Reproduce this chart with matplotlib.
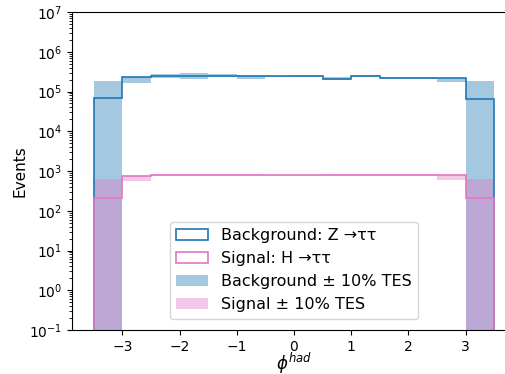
import numpy as np
import matplotlib
matplotlib.use('Agg')
import matplotlib.pyplot as plt
from matplotlib.ticker import LogLocator

# bin edges in phi^had
edges = [-3.5, -3.0, -2.5, -2.0, -1.5, -1.0, -0.5, 0.0, 0.5, 1.0, 1.5, 2.0, 2.5, 3.0, 3.5]

# nominal histograms
bkg_nom = [6.9e4, 2.28e5, 2.5e5, 2.5e5, 2.5e5, 2.45e5, 2.41e5,
           2.41e5, 2.1e5, 2.41e5, 2.23e5, 2.19e5, 2.23e5, 6.6e4]
sig_nom = [213, 762, 805, 800, 795, 790, 788,
           788, 790, 795, 790, 790, 785, 213]

# +-10% TES envelope (low, high)
bkg_lo = [1e-3, 1.66e5, 2.14e5, 2.03e5, 2.32e5, 2.1e5, 2.28e5,
          2.33e5, 1.98e5, 2.33e5, 2.1e5, 2.07e5, 1.7e5, 1e-3]
bkg_hi = [1.87e5, 2.28e5, 2.7e5, 2.87e5, 2.7e5, 2.6e5, 2.5e5,
          2.6e5, 2.36e5, 2.57e5, 2.33e5, 2.33e5, 2.23e5, 1.87e5]
sig_lo = [1e-3, 575, 762, 750, 770, 760, 770,
          770, 760, 770, 760, 765, 600, 1e-3]
sig_hi = [630, 762, 820, 850, 830, 830, 810,
          810, 840, 830, 830, 820, 790, 630]

centers = 0.5 * (np.array(edges[:-1]) + np.array(edges[1:]))

fig = plt.figure(figsize=(5.06, 3.74), dpi=100)
ax = fig.add_axes([72 / 506, 44 / 374, 444 / 506, 318 / 374])

ax.hist(centers, bins=edges, weights=bkg_nom, histtype='step',
        color='tab:blue', lw=1.2, label='Background: Z →ττ')
ax.hist(centers, bins=edges, weights=sig_nom, histtype='step',
        color='tab:pink', lw=1.2, label='Signal: H →ττ')
ax.stairs(bkg_hi, edges, baseline=bkg_lo, fill=True, color='tab:blue',
          alpha=0.4, lw=0, label='Background ± 10% TES')
ax.stairs(sig_hi, edges, baseline=sig_lo, fill=True, color='tab:pink',
          alpha=0.4, lw=0, label='Signal ± 10% TES')

ax.set_yscale('log')
ax.set_ylim(1e-1, 1e7)
ax.set_xlim(-3.88, 3.88)
ax.yaxis.set_major_locator(LogLocator(base=10, numticks=20))
ax.yaxis.set_minor_locator(LogLocator(base=10, subs=np.arange(2, 10), numticks=20))
ax.tick_params(labelsize=10)
ax.spines['right'].set_visible(False)

ax.set_xlabel(r'$\phi^{had}$', fontsize=12, labelpad=-2)
ax.set_ylabel('Events', fontsize=11, labelpad=1)
ax.legend(loc='lower center', fontsize=11.5, labelspacing=0.5,
          borderaxespad=0.7)

fig.savefig('out.png', dpi=100)
